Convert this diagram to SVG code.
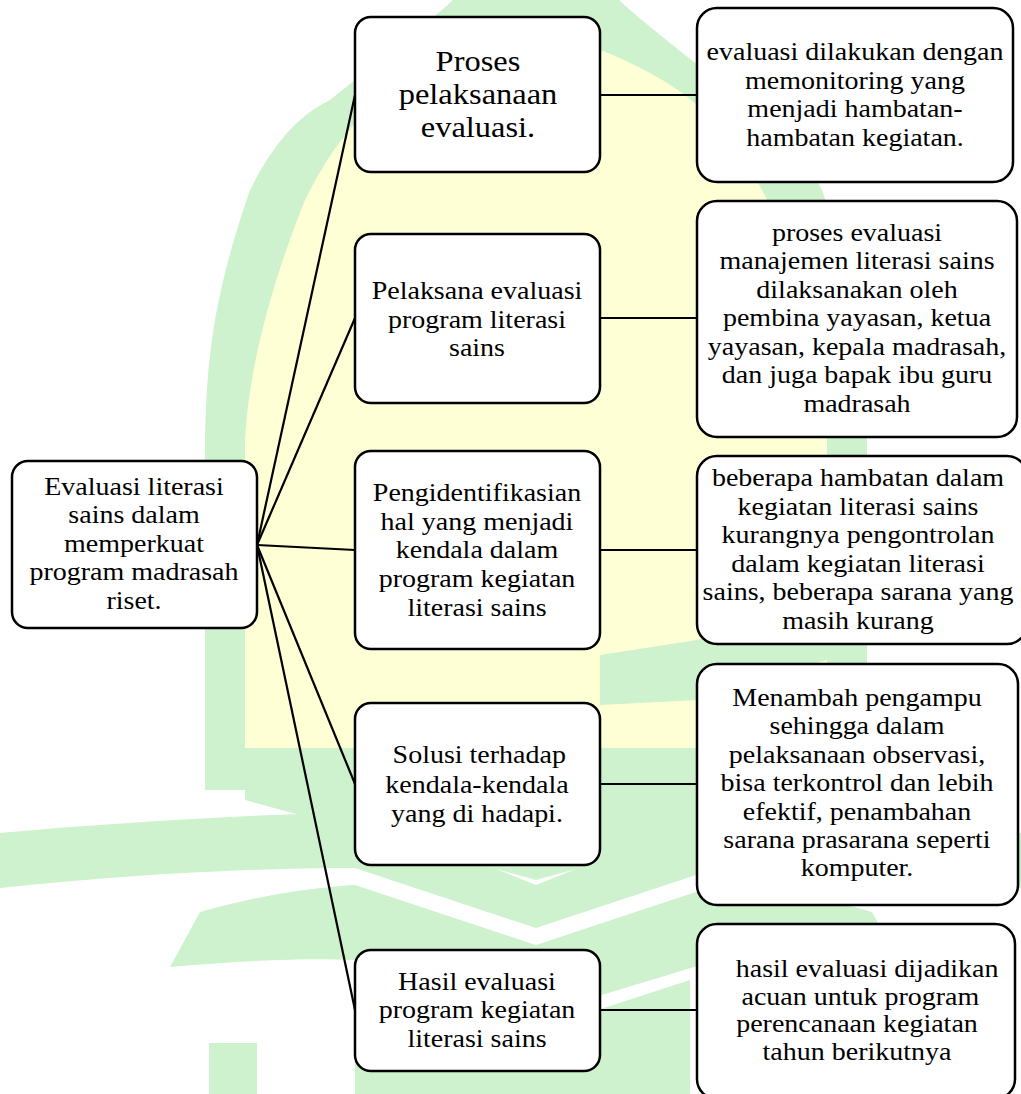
<svg xmlns="http://www.w3.org/2000/svg" width="1021" height="1094" viewBox="0 0 1021 1094">
  <style>
    .box { fill: #ffffff; stroke: #000000; stroke-width: 2.5; }
    .wire { stroke: #000000; stroke-width: 2.2; fill: none; }
    text { font-family: "Liberation Serif", "Times New Roman", serif; font-size: 25px; fill: #000000; text-anchor: middle; }
    .big { font-size: 29px; }
    .wm-green { fill: #cdf2cd; }
    .wm-yellow { fill: #ffffd6; }
  </style>

  <!-- faint background emblem: dome over an open book -->
  <g id="emblem">
    <rect width="1021" height="1094" fill="#ffffff"/>
    <path class="wm-green" d="M205,790 L205,440 C207,360 212,300 250,190 C275,140 300,115 330,100 C380,60 420,30 453,0 L536,-80 L619,0 C652,30 692,60 742,100 C772,115 797,140 822,190 C860,300 865,360 867,440 L867,790 Z"/>
    <path class="wm-yellow" d="M245,748 L245,440 C248,380 265,300 305,200 C325,160 340,140 360,118 C400,80 440,60 536,25 C632,60 672,80 712,118 C732,140 747,160 767,200 C807,300 824,380 827,440 L827,748 Z"/>
    <!-- rays on the lower part of the dome -->
    <path class="wm-green" d="M600,655 L697,640 L827,600 L827,660 L697,700 L600,705 Z"/>
    <path class="wm-green" d="M245,748 L827,748 L827,800 L536,880 L245,800 Z"/>
    <!-- upper pages -->
    <path class="wm-green" d="M0,833 C120,822 250,815 355,812 L536,885 L717,812 C822,815 950,822 1021,833 L1021,888 C950,875 822,868 717,868 L536,928 L355,868 C250,868 120,875 0,888 Z"/>
    <!-- lower pages -->
    <path class="wm-green" d="M200,912 C260,895 310,888 355,885 L536,945 L717,885 C762,888 812,895 872,912 L902,967 C822,960 762,958 717,960 L536,1015 L355,960 C310,958 250,960 170,967 Z"/>
    <path class="wm-green" d="M355,975 L536,1030 L690,980 L690,1094 L355,1094 Z"/>
    <!-- feet -->
    <rect class="wm-green" x="209" y="1043" width="48" height="51"/>
    <rect class="wm-green" x="815" y="1043" width="48" height="51"/>
  </g>

  <g id="connectors">
    <line class="wire" x1="257" y1="545" x2="355" y2="95"/>
    <line class="wire" x1="257" y1="545" x2="355" y2="318"/>
    <line class="wire" x1="257" y1="545" x2="355" y2="550"/>
    <line class="wire" x1="257" y1="545" x2="355" y2="784"/>
    <line class="wire" x1="257" y1="545" x2="355" y2="1010"/>
    <line class="wire" x1="600" y1="95" x2="697" y2="95"/>
    <line class="wire" x1="600" y1="318" x2="697" y2="318"/>
    <line class="wire" x1="600" y1="550" x2="697" y2="550"/>
    <line class="wire" x1="600" y1="784" x2="697" y2="784"/>
    <line class="wire" x1="600" y1="1010" x2="697" y2="1010"/>
  </g>

  <g id="root">
    <rect class="box" x="12" y="461" width="245" height="167" rx="16"/>
    <g transform="translate(134 0) scale(1.12 1)">
      <text x="0" y="495">Evaluasi literasi</text>
      <text x="0" y="523.5">sains dalam</text>
      <text x="0" y="552">memperkuat</text>
      <text x="0" y="580.5">program madrasah</text>
      <text x="0" y="609">riset.</text>
    </g>
  </g>

  <g id="proses">
    <rect class="box" x="355" y="17" width="245" height="155" rx="16"/>
    <g transform="translate(478 0) scale(1.12 1)">
      <text class="big" x="0" y="71">Proses</text>
      <text class="big" x="0" y="104">pelaksanaan</text>
      <text class="big" x="0" y="137.5">evaluasi.</text>
    </g>
  </g>

  <g id="pelaksana">
    <rect class="box" x="355" y="234" width="245" height="169" rx="16"/>
    <g transform="translate(477 0) scale(1.12 1)">
      <text x="0" y="299">Pelaksana evaluasi</text>
      <text x="0" y="328">program literasi</text>
      <text x="0" y="356">sains</text>
    </g>
  </g>

  <g id="identifikasi">
    <rect class="box" x="355" y="451" width="245" height="198" rx="16"/>
    <g transform="translate(477 0) scale(1.12 1)">
      <text x="0" y="501">Pengidentifikasian</text>
      <text x="0" y="530">hal yang menjadi</text>
      <text x="0" y="558">kendala dalam</text>
      <text x="0" y="587">program kegiatan</text>
      <text x="0" y="616">literasi sains</text>
    </g>
  </g>

  <g id="solusi">
    <rect class="box" x="355" y="703" width="245" height="162" rx="16"/>
    <g transform="translate(477 0) scale(1.12 1)">
      <text x="2" y="763">Solusi terhadap</text>
      <text x="0" y="793">kendala-kendala</text>
      <text x="0" y="822">yang di hadapi.</text>
    </g>
  </g>

  <g id="hasil">
    <rect class="box" x="355" y="950" width="245" height="121" rx="16"/>
    <g transform="translate(477 0) scale(1.12 1)">
      <text x="0" y="990">Hasil evaluasi</text>
      <text x="0" y="1018.5">program kegiatan</text>
      <text x="0" y="1047">literasi sains</text>
    </g>
  </g>

  <g id="detail-proses">
    <rect class="box" x="697" y="8" width="316" height="174" rx="20"/>
    <g transform="translate(855 0) scale(1.12 1)">
      <text x="0" y="60.5">evaluasi dilakukan dengan</text>
      <text x="0" y="89">memonitoring yang</text>
      <text x="0" y="117.5">menjadi hambatan-</text>
      <text x="0" y="146">hambatan kegiatan.</text>
    </g>
  </g>

  <g id="detail-pelaksana">
    <rect class="box" x="697" y="201" width="320" height="236" rx="20"/>
    <g transform="translate(857 0) scale(1.12 1)">
      <text x="0" y="241">proses evaluasi</text>
      <text x="0" y="269.5">manajemen literasi sains</text>
      <text x="0" y="298">dilaksanakan oleh</text>
      <text x="0" y="326.5">pembina yayasan, ketua</text>
      <text x="0" y="355">yayasan, kepala madrasah,</text>
      <text x="0" y="383.5">dan juga bapak ibu guru</text>
      <text x="0" y="412">madrasah</text>
    </g>
  </g>

  <g id="detail-kendala">
    <rect class="box" x="697" y="456" width="330" height="188" rx="20"/>
    <g transform="translate(858 0) scale(1.12 1)">
      <text x="0" y="486.5">beberapa hambatan dalam</text>
      <text x="0" y="515">kegiatan literasi sains</text>
      <text x="0" y="543.5">kurangnya pengontrolan</text>
      <text x="0" y="572">dalam kegiatan literasi</text>
      <text x="0" y="600.5">sains, beberapa sarana yang</text>
      <text x="0" y="629">masih kurang</text>
    </g>
  </g>

  <g id="detail-solusi">
    <rect class="box" x="697" y="664" width="321" height="241" rx="20"/>
    <g transform="translate(857 0) scale(1.12 1)">
      <text x="0" y="706">Menambah pengampu</text>
      <text x="0" y="734.4">sehingga dalam</text>
      <text x="0" y="762.8">pelaksanaan observasi,</text>
      <text x="0" y="791.2">bisa terkontrol dan lebih</text>
      <text x="0" y="819.6">efektif, penambahan</text>
      <text x="0" y="848">sarana prasarana seperti</text>
      <text x="0" y="876.4">komputer.</text>
    </g>
  </g>

  <g id="detail-hasil">
    <rect class="box" x="697" y="924" width="318" height="175" rx="20"/>
    <g transform="translate(857 0) scale(1.12 1)">
      <text x="9" y="977">hasil evaluasi dijadikan</text>
      <text x="3" y="1005">acuan untuk program</text>
      <text x="0" y="1032.5">perencanaan kegiatan</text>
      <text x="0" y="1060">tahun berikutnya</text>
    </g>
  </g>
</svg>
